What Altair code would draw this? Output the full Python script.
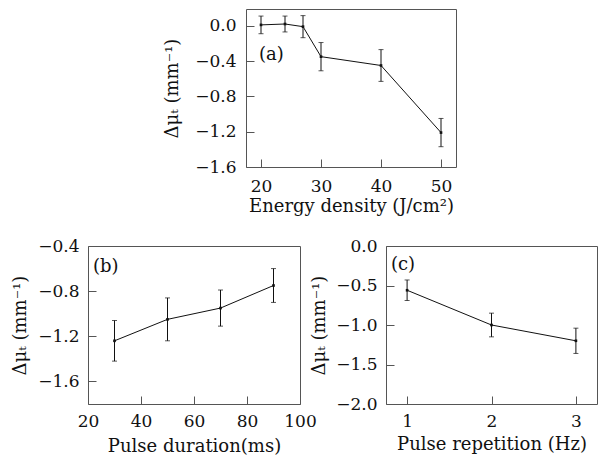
import altair as alt
import pandas as pd

# Panel (a): energy density
a_x = [20, 24, 27, 30, 40, 50]
a_y = [0.01, 0.02, -0.01, -0.35, -0.45, -1.21]
a_err = [0.10, 0.09, 0.125, 0.16, 0.18, 0.16]
a_xticks = [20, 30, 40, 50]
a_yticks = [0.0, -0.4, -0.8, -1.2, -1.6]

# Panel (b): pulse duration
b_x = [30, 50, 70, 90]
b_y = [-1.24, -1.05, -0.95, -0.75]
b_err = [0.18, 0.19, 0.16, 0.15]
b_xticks = [20, 40, 60, 80, 100]
b_yticks = [-0.4, -0.8, -1.2, -1.6]

# Panel (c): pulse repetition
c_x = [1, 2, 3]
c_y = [-0.56, -1.0, -1.2]
c_err = [0.13, 0.15, 0.16]
c_xticks = [1, 2, 3]
c_yticks = [0.0, -0.5, -1.0, -1.5, -2.0]

YTITLE = "Δμₜ (mm⁻¹)"
FONT = "DejaVu Serif"
FRAME = "#555555"
INK = "#111111"


def frame_df(xs, ys, es):
    return pd.DataFrame({
        "x": xs,
        "y": ys,
        "lo": [v - e for v, e in zip(ys, es)],
        "hi": [v + e for v, e in zip(ys, es)],
    })


def panel(df, xdom, ydom, xticks, yticks, xfmt, xtitle, w, h, tag, tagx, tagy,
          xlp, xtp, ylp, ytp):
    xaxis = alt.Axis(values=xticks, format=xfmt, title=xtitle, domain=False,
                     grid=False, tickSize=8, offset=-8, tickColor=FRAME,
                     labelFlush=False, labelOverlap=False, labelPadding=xlp,
                     titlePadding=xtp)
    yaxis = alt.Axis(values=yticks, format=".1f", title=YTITLE, domain=False,
                     grid=False, tickSize=8, offset=-8, tickColor=FRAME,
                     labelFlush=False, labelOverlap=False, labelPadding=ylp,
                     titlePadding=ytp)
    xs = alt.Scale(domain=xdom, nice=False, zero=False)
    ys = alt.Scale(domain=ydom, nice=False, zero=False)

    def X():
        return alt.X("x:Q", scale=xs, axis=xaxis)

    def Y(f):
        return alt.Y(f + ":Q", scale=ys, axis=yaxis)

    base = alt.Chart(df)
    line = base.mark_line(color=INK, strokeWidth=1).encode(x=X(), y=Y("y"))
    bars = base.mark_rule(color=INK, strokeWidth=1).encode(x=X(), y=Y("lo"), y2="hi:Q")
    cap_lo = base.mark_tick(orient="horizontal", size=5, thickness=1, color=INK).encode(x=X(), y=Y("lo"))
    cap_hi = base.mark_tick(orient="horizontal", size=5, thickness=1, color=INK).encode(x=X(), y=Y("hi"))
    pts = base.mark_square(size=7, color=INK, opacity=1).encode(x=X(), y=Y("y"))
    txt = alt.Chart(pd.DataFrame({"t": [tag]})).mark_text(
        align="left", baseline="middle", font=FONT, fontSize=18, color=INK
    ).encode(x=alt.value(tagx), y=alt.value(tagy), text="t:N")
    return alt.layer(line, bars, cap_lo, cap_hi, pts, txt).properties(width=w, height=h)


pa = panel(frame_df(a_x, a_y, a_err), [17.5, 52.5], [-1.6, 0.19], a_xticks, a_yticks,
           "d", "Energy density (J/cm²)", 210, 158, "(a)", 13, 46, 11, 3, 10, 13)
pb = panel(frame_df(b_x, b_y, b_err), [20, 100], [-1.8, -0.4], b_xticks, b_yticks,
           "d", "Pulse duration(ms)", 212, 158, "(b)", 5, 21, 9, 8, 9, 8)
pc = panel(frame_df(c_x, c_y, c_err), [0.75, 3.25], [-2.0, 0.0], c_xticks, c_yticks,
           "d", "Pulse repetition (Hz)", 211, 158, "(c)", 5, 19, 9, 6, 9, 7)

spacer = alt.Chart(pd.DataFrame({"s": [0]})).mark_point(opacity=0, size=1).encode(
    x=alt.value(10), y=alt.value(80)
).properties(width=158, height=158, view=alt.ViewBackground(strokeOpacity=0))

row1 = alt.hconcat(spacer, pa, spacing=0, bounds="flush")
row2 = alt.hconcat(pb, pc, spacing=86, bounds="flush")

chart = alt.vconcat(row1, row2, spacing=237, bounds="flush").properties(
    padding={"left": 3, "top": 0, "right": 0, "bottom": 0}
).configure_view(stroke=FRAME, strokeWidth=1).configure_axis(
    labelFont=FONT, labelFontSize=17, labelColor=INK,
    titleFont=FONT, titleFontSize=18, titleColor=INK, titleFontWeight="normal"
)

chart.save("out.html", embed_options={"renderer": "svg", "actions": False})
